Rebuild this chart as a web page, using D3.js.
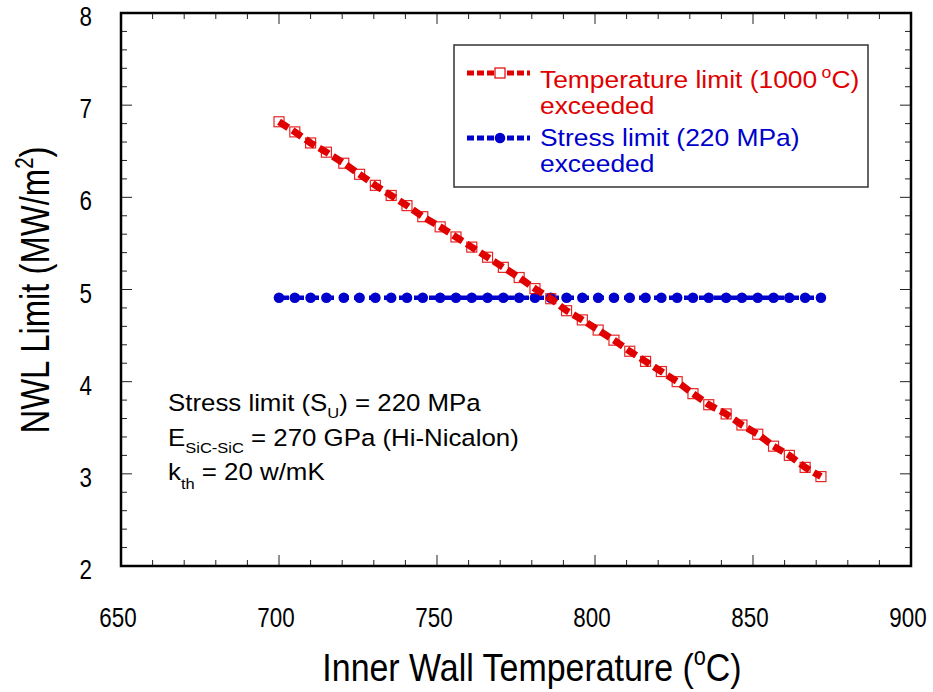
<!DOCTYPE html>
<html>
<head>
<meta charset="utf-8">
<script src="https://cdn.jsdelivr.net/npm/d3@7"></script>
<style>
  body { margin: 0; background: #fff; }
  svg { display: block; font-family: "Liberation Sans", Arial, sans-serif; }
</style>
</head>
<body>
<svg width="933" height="692"></svg>
<script>
// data
const temps = [700, 705, 710, 715, 720.5, 725.5, 730.5, 735.5, 740.5, 745.5,
  751, 756, 761, 766, 771, 776, 781, 786, 791, 796,
  801, 806, 811, 816, 821, 826, 831, 836, 841.5, 846.5,
  851.5, 856.5, 861.5, 866.5, 871.5];
const tempLimit = [6.82, 6.71, 6.59, 6.49, 6.37, 6.25, 6.13, 6.02, 5.91, 5.79,
  5.68, 5.57, 5.46, 5.35, 5.24, 5.13, 5.01, 4.90, 4.77, 4.67,
  4.56, 4.45, 4.33, 4.22, 4.11, 4.00, 3.87, 3.75, 3.65, 3.53,
  3.43, 3.30, 3.20, 3.07, 2.97];
const stressLimit = [4.91, 4.91, 4.91, 4.91, 4.91, 4.91, 4.91, 4.91, 4.91, 4.91,
  4.91, 4.91, 4.91, 4.91, 4.91, 4.91, 4.91, 4.91, 4.91, 4.91,
  4.91, 4.91, 4.91, 4.91, 4.91, 4.91, 4.91, 4.91, 4.91, 4.91,
  4.91, 4.91, 4.91, 4.91, 4.91];
const xTicks = [650, 700, 750, 800, 850, 900];
const yTicks = [2, 3, 4, 5, 6, 7, 8];

const red = "#e00000", blue = "#0000cc";
const svg = d3.select("svg");

const x = d3.scaleLinear().domain([650, 900]).range([121, 911]);
const y = d3.scaleLinear().domain([2, 8]).range([566, 13]);

const narrow = 0.8;   // tick labels / axis titles look condensed
const wide = 1.1;     // legend + notes look a bit stretched

// ticks on all four sides, pointing inward
const tickG = svg.append("g").attr("stroke", "#222").attr("stroke-width", 1);
const xMinor = d3.range(650, 900.1, 10);
const yMinor = d3.range(2, 8.01, 0.2);
const isMajorX = v => Math.abs(v % 50) < 0.01;
const isMajorY = v => Math.abs(v - Math.round(v)) < 0.01;

tickG.selectAll(".xb").data(xMinor).join("line")
  .attr("x1", d => x(d)).attr("x2", d => x(d))
  .attr("y1", y(2)).attr("y2", d => y(2) - (isMajorX(d) ? 11 : 6));
tickG.selectAll(".xt").data(xMinor).join("line")
  .attr("x1", d => x(d)).attr("x2", d => x(d))
  .attr("y1", y(8)).attr("y2", d => y(8) + (isMajorX(d) ? 11 : 6));
tickG.selectAll(".yl").data(yMinor).join("line")
  .attr("y1", d => y(d)).attr("y2", d => y(d))
  .attr("x1", x(650)).attr("x2", d => x(650) + (isMajorY(d) ? 11 : 6));
tickG.selectAll(".yr").data(yMinor).join("line")
  .attr("y1", d => y(d)).attr("y2", d => y(d))
  .attr("x1", x(900)).attr("x2", d => x(900) - (isMajorY(d) ? 11 : 6));

// frame
svg.append("rect")
  .attr("x", x(650)).attr("y", y(8))
  .attr("width", x(900) - x(650)).attr("height", y(2) - y(8))
  .attr("fill", "none").attr("stroke", "#000").attr("stroke-width", 2.5);

// tick labels
svg.append("g").selectAll("g").data(xTicks).join("g")
  .attr("transform", d => `translate(${x(d) - 3},627) scale(${narrow},1)`)
  .append("text").attr("text-anchor", "middle").attr("font-size", 28)
  .text(d => d);

svg.append("g").selectAll("g").data(yTicks).join("g")
  .attr("transform", d => `translate(92,${y(d) + 13}) scale(${narrow},1)`)
  .append("text").attr("text-anchor", "end").attr("font-size", 28)
  .text(d => d);

// axis titles
const xt = svg.append("g").attr("transform", "translate(532,681) scale(0.87,1)")
  .append("text").attr("text-anchor", "middle").attr("font-size", 39);
xt.append("tspan").text("Inner Wall Temperature (");
xt.append("tspan").attr("font-size", 25).attr("dy", -16).text("o");
xt.append("tspan").attr("dy", 16).text("C)");

const yt = svg.append("g").attr("transform", "translate(49,290) rotate(-90) scale(0.82,1)")
  .append("text").attr("text-anchor", "middle").attr("font-size", 40);
yt.append("tspan").text("NWL Limit (MW/m");
yt.append("tspan").attr("font-size", 25).attr("dy", -16).text("2");
yt.append("tspan").attr("dy", 16).text(")");

// series
const line = d3.line().x(d => x(d[0])).y(d => y(d[1]));
const redPts = temps.map((t, i) => [t, tempLimit[i]]);
const bluePts = temps.map((t, i) => [t, stressLimit[i]]);

svg.append("path").datum(bluePts).attr("d", line)
  .attr("fill", "none").attr("stroke", blue).attr("stroke-width", 4.5)
  .attr("stroke-dasharray", "10,5");
svg.append("g").selectAll("circle").data(bluePts).join("circle")
  .attr("cx", d => x(d[0])).attr("cy", d => y(d[1])).attr("r", 5.3)
  .attr("fill", blue);

svg.append("path").datum(redPts).attr("d", line)
  .attr("fill", "none").attr("stroke", red).attr("stroke-width", 7)
  .attr("stroke-dasharray", "11,5");
svg.append("g").selectAll("rect").data(redPts).join("rect")
  .attr("x", d => x(d[0]) - 5).attr("y", d => y(d[1]) - 5)
  .attr("width", 10).attr("height", 10)
  .attr("fill", "none").attr("stroke", red).attr("stroke-width", 1.2)
  .attr("opacity", 0.85);

// legend
const lg = svg.append("g");
lg.append("rect").attr("x", 454).attr("y", 45).attr("width", 414).attr("height", 142)
  .attr("fill", "#fff").attr("stroke", "#333").attr("stroke-width", 1.5);

lg.append("line").attr("x1", 467).attr("x2", 530).attr("y1", 73).attr("y2", 73)
  .attr("stroke", red).attr("stroke-width", 5).attr("stroke-dasharray", "7,3");
lg.append("rect").attr("x", 495).attr("y", 68).attr("width", 10).attr("height", 10)
  .attr("fill", "#fff").attr("stroke", red).attr("stroke-width", 1.2);
lg.append("line").attr("x1", 467).attr("x2", 530).attr("y1", 138).attr("y2", 138)
  .attr("stroke", blue).attr("stroke-width", 5).attr("stroke-dasharray", "7,3");
lg.append("circle").attr("cx", 500).attr("cy", 138).attr("r", 5.3).attr("fill", blue);

const legText = (yy, color) => lg.append("g")
  .attr("transform", `translate(540,${yy}) scale(${wide},1)`)
  .append("text").attr("font-size", 24).attr("fill", color);
const l1 = legText(88, red);
l1.append("tspan").text("Temperature limit (1000");
l1.append("tspan").attr("dx", 4).attr("dy", -10).attr("font-size", 16).text("o");
l1.append("tspan").attr("dy", 10).text("C)");
legText(114, red).text("exceeded");
legText(146, blue).text("Stress limit (220 MPa)");
legText(172, blue).text("exceeded");

// annotation
const note = yy => svg.append("g")
  .attr("transform", `translate(168,${yy}) scale(1.1,1)`)
  .append("text").attr("font-size", 23.5).attr("fill", "#000");
const a1 = note(411);
a1.append("tspan").text("Stress limit (S");
a1.append("tspan").attr("font-size", 15).attr("dy", 7).text("U");
a1.append("tspan").attr("dy", -7).text(") = 220 MPa");
const a2 = note(446);
a2.append("tspan").text("E");
a2.append("tspan").attr("font-size", 15).attr("dy", 7).text("SiC-SiC");
a2.append("tspan").attr("dy", -7).text(" = 270 GPa (Hi-Nicalon)");
const a3 = note(480);
a3.append("tspan").text("k");
a3.append("tspan").attr("font-size", 15).attr("dy", 9).text("th");
a3.append("tspan").attr("dy", -9).text(" = 20 w/mK");
</script>
</body>
</html>
